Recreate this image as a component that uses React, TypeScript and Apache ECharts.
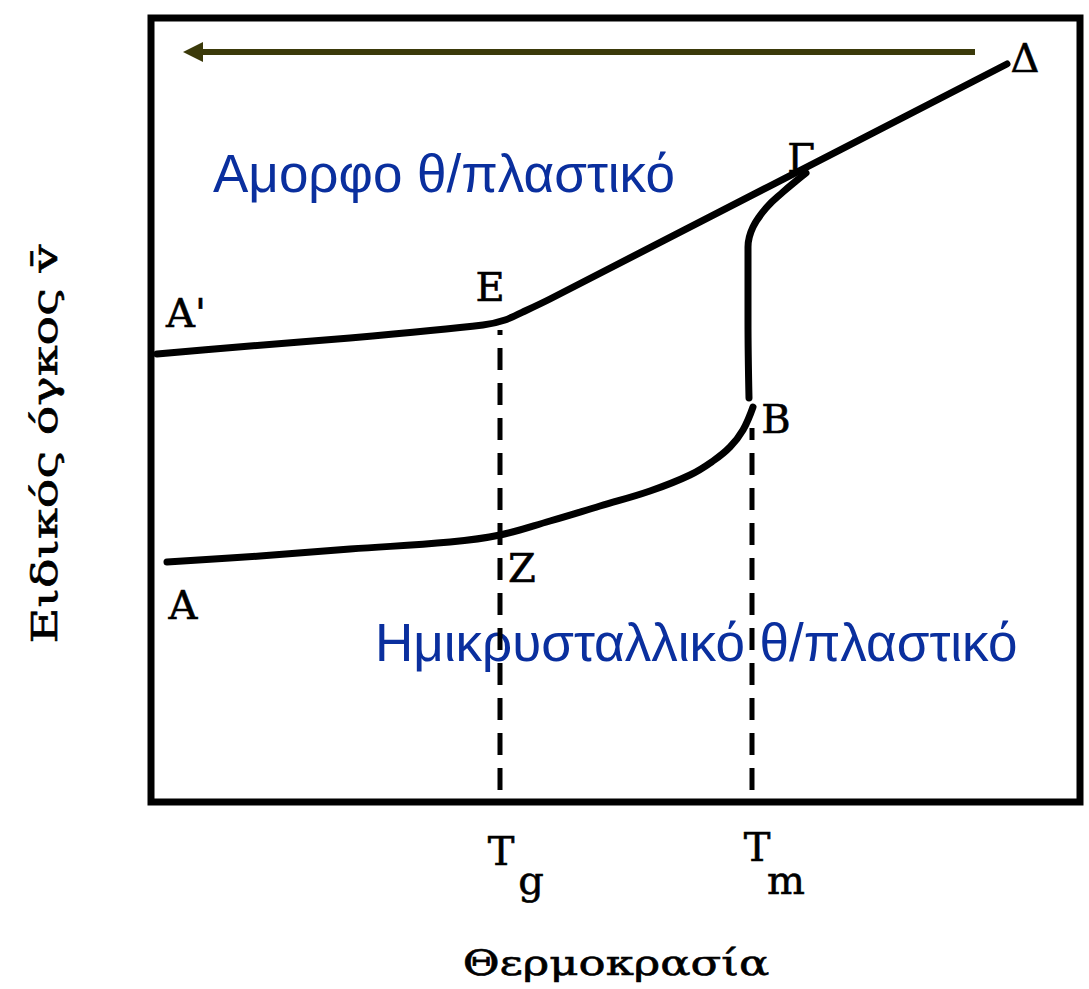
import React, { useEffect, useRef } from "react";
import * as echarts from "echarts";

// Arbitrary units: temperature (x) and specific volume (y)
const tRange = [0, 929];
const vRange = [0, 784];

// Amorphous thermoplastic: A' -> E -> Γ -> Δ
const amorphousT = [6, 99, 199, 332, 354, 374, 399, 856];
const amorphousV = [448, 456, 464, 477, 482, 491, 503, 738];

// Semicrystalline thermoplastic: A -> Z -> B
const semiT = [16, 109, 199, 299, 349, 399, 449, 499, 539, 562, 579, 592, 602];
const semiV = [240, 246, 253, 260, 267, 281, 296, 311, 327, 341, 355, 372, 395];

// Melting: B -> Γ
const meltT = [598, 597, 597, 602, 616, 632, 645, 655];
const meltV = [404, 482, 555, 575, 595, 610, 621, 629];

// Tg and Tm guide lines
const tgT = 349;
const tgV = [12, 472];
const tmT = 601;
const tmV = [12, 374];

// Cooling arrow (from right to left)
const arrowT = [824, 42];
const arrowV = [750, 750];

const zip = (xs: number[], ys: number[]) => xs.map((x, i) => [x, ys[i]]);

const serif = "'DejaVu Serif', 'Liberation Serif', serif";
const sans = "'Liberation Sans', Arial, sans-serif";
const blue = "#0a2f9e";

function txt(text: string, x: number, y: number, size: number, extra: any = {}) {
  const { style, ...rest } = extra;
  return {
    type: "text",
    x,
    y,
    ...rest,
    style: {
      text,
      font: `${size}px ${serif}`,
      fill: "#000",
      stroke: "#000",
      lineWidth: 0.6,
      align: "center",
      verticalAlign: "middle",
      ...(style || {}),
    },
  };
}

export default function App() {
  const ref = useRef<HTMLDivElement>(null);
  useEffect(() => {
    document.body.style.margin = "0";
    const chart = echarts.init(ref.current!, null, { renderer: "svg" });
    const lineStyle = { color: "#000", width: 7, cap: "round", join: "round" };
    chart.setOption({
      animation: false,
      grid: {
        show: true,
        left: 151,
        top: 18,
        right: 9,
        bottom: 187,
        borderColor: "#000",
        borderWidth: 7,
        backgroundColor: "transparent",
      },
      xAxis: { type: "value", min: tRange[0], max: tRange[1], show: false },
      yAxis: { type: "value", min: vRange[0], max: vRange[1], show: false },
      series: [
        {
          type: "line",
          data: [[tgT, tgV[0]], [tgT, tgV[1]]],
          showSymbol: false,
          lineStyle: { color: "#000", width: 5, type: [22, 13] },
        },
        {
          type: "line",
          data: [[tmT, tmV[0]], [tmT, tmV[1]]],
          showSymbol: false,
          lineStyle: { color: "#000", width: 5, type: [22, 13] },
        },
        {
          type: "line",
          data: zip(amorphousT, amorphousV),
          showSymbol: false,
          smooth: 0.2,
          lineStyle,
        },
        {
          type: "line",
          data: zip(semiT, semiV),
          showSymbol: false,
          smooth: 0.4,
          lineStyle,
        },
        {
          type: "line",
          data: zip(meltT, meltV),
          showSymbol: false,
          smooth: 0.4,
          lineStyle,
        },
        {
          type: "lines",
          coordinateSystem: "cartesian2d",
          symbol: ["none", "triangle"],
          symbolSize: [18, 20],
          lineStyle: { color: "#3b3a0a", width: 6, opacity: 1 },
          data: [{ coords: zip(arrowT, arrowV) }],
        },
      ],
      graphic: [
        txt("A'", 166, 313, 40, { style: { align: "left" } }),
        txt("E", 490, 287, 40),
        txt("Γ", 801, 158, 40),
        txt("Δ", 1025, 58, 40),
        txt("B", 776, 419, 40),
        txt("Z", 522, 568, 40),
        txt("A", 183, 605, 40),
        txt("T", 501, 851, 40),
        txt("g", 531, 880, 40),
        txt("T", 757, 847, 40),
        txt("m", 786, 880, 40),
        txt("Θερμοκρασία", 616, 963, 36, { scaleX: 1.25 }),
        txt("Ειδικός όγκος v\u0304", 44, 444, 36, { rotation: Math.PI / 2, scaleX: 1.37 }),
        {
          type: "text",
          x: 213,
          y: 173,
          style: {
            text: "Αμορφο θ/πλαστικό",
            font: `53px ${sans}`,
            fill: blue,
            align: "left",
            verticalAlign: "middle",
          },
        },
        {
          type: "text",
          x: 375,
          y: 642,
          style: {
            text: "Ημικρυσταλλικό θ/πλαστικό",
            font: `53px ${sans}`,
            fill: blue,
            align: "left",
            verticalAlign: "middle",
          },
        },
      ],
    });
    return () => chart.dispose();
  }, []);
  return <div ref={ref} style={{ width: 1089, height: 989 }} />;
}
